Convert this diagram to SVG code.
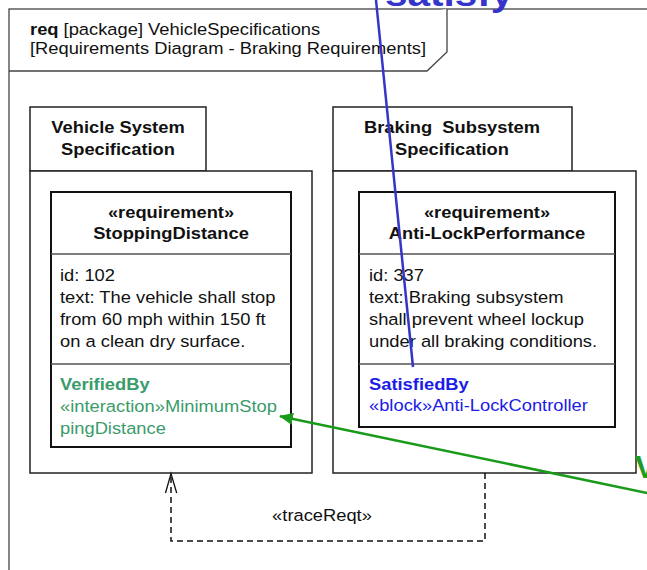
<svg xmlns="http://www.w3.org/2000/svg" width="647" height="570" viewBox="0 0 647 570">
  <style>
    .t { font-family: "Liberation Sans", Arial, sans-serif; font-size: 16.3px; fill: #111; }
    .b { font-weight: bold; }
    .c { text-anchor: middle; }
    .pre { white-space: pre; }
    .frame { fill: #fff; stroke: #444; stroke-width: 1.3; }
    .pkg { fill: #fff; stroke: #222; stroke-width: 1.5; }
    .req { fill: #fff; stroke: #111; stroke-width: 2; }
    .sep { stroke: #555; stroke-width: 1.5; }
    .green { fill: #3a9b6b; }
    .blue { fill: #1c1ce6; }
    .dash { fill: none; stroke: #111; stroke-width: 1.5; stroke-dasharray: 6 4; }
  </style>
  <defs>
    <marker id="verifyHead" markerUnits="userSpaceOnUse" markerWidth="16" markerHeight="14" refX="13" refY="6" orient="auto">
      <path d="M0,0 L14,6 L0,12 z" fill="#1a9a1a"/>
    </marker>
  </defs>

  <rect width="647" height="570" fill="#fff"/>

  <!-- diagram frame with its name tab -->
  <g id="frame">
    <rect class="frame" x="9" y="9" width="660" height="580"/>
    <path class="frame" d="M9,71 H427 L447,52 V9"/>
    <text class="t" transform="translate(30 35) scale(1.125 1)"><tspan class="b">req</tspan> [package] VehicleSpecifications</text>
    <text class="t" transform="translate(30 54) scale(1.125 1)">[Requirements Diagram - Braking Requirements]</text>
  </g>

  <!-- package: Vehicle System Specification -->
  <g id="pkg-vehicle">
    <rect class="pkg" x="30" y="107" width="176" height="64"/>
    <rect class="pkg" x="30" y="171" width="282" height="302"/>
    <text class="t b c" transform="translate(118 133) scale(1.125 1)">Vehicle System</text>
    <text class="t b c" transform="translate(118 155) scale(1.125 1)">Specification</text>
  </g>

  <!-- requirement: StoppingDistance -->
  <g id="req-stopping">
    <rect class="req" x="51" y="192" width="240" height="255"/>
    <line class="sep" x1="51" y1="254" x2="291" y2="254"/>
    <line class="sep" x1="51" y1="364" x2="291" y2="364"/>
    <text class="t b c" transform="translate(171 218) scale(1.125 1)">«requirement»</text>
    <text class="t b c" transform="translate(171 239) scale(1.125 1)">StoppingDistance</text>
    <text class="t" transform="translate(60 281) scale(1.125 1)">id: 102</text>
    <text class="t" transform="translate(60 303) scale(1.125 1)">text: The vehicle shall stop</text>
    <text class="t" transform="translate(60 325) scale(1.125 1)">from 60 mph within 150 ft</text>
    <text class="t" transform="translate(60 347) scale(1.125 1)">on a clean dry surface.</text>
    <text class="t b green" transform="translate(60 390) scale(1.125 1)">VerifiedBy</text>
    <text class="t green" transform="translate(60 412) scale(1.125 1)">«interaction»MinimumStop</text>
    <text class="t green" transform="translate(60 434) scale(1.125 1)">pingDistance</text>
  </g>

  <!-- package: Braking Subsystem Specification -->
  <g id="pkg-braking">
    <rect class="pkg" x="333" y="107" width="239" height="64"/>
    <rect class="pkg" x="333" y="171" width="303" height="302"/>
    <text class="t b c pre" transform="translate(452 133) scale(1.125 1)">Braking  Subsystem</text>
    <text class="t b c" transform="translate(452 155) scale(1.125 1)">Specification</text>
  </g>

  <!-- requirement: Anti-LockPerformance -->
  <g id="req-antilock">
    <rect class="req" x="359" y="192" width="256" height="235"/>
    <line class="sep" x1="359" y1="254" x2="615" y2="254"/>
    <line class="sep" x1="359" y1="364" x2="615" y2="364"/>
    <text class="t b c" transform="translate(487 218) scale(1.125 1)">«requirement»</text>
    <text class="t b c" transform="translate(487 239) scale(1.125 1)">Anti-LockPerformance</text>
    <text class="t" transform="translate(369 281) scale(1.125 1)">id: 337</text>
    <text class="t" transform="translate(369 303) scale(1.125 1)">text: Braking subsystem</text>
    <text class="t" transform="translate(369 325) scale(1.125 1)">shall prevent wheel lockup</text>
    <text class="t" transform="translate(369 347) scale(1.125 1)">under all braking conditions.</text>
    <text class="t b blue" transform="translate(369 390) scale(1.125 1)">SatisfiedBy</text>
    <text class="t blue" transform="translate(369 411) scale(1.125 1)">«block»Anti-LockController</text>
  </g>

  <!-- connectors -->
  <g id="connectors">
    <!-- traceReqt dependency -->
    <path class="dash" d="M485,473 V541 H171 V475"/>
    <polyline points="165.5,493 171,473.5 176.7,493" fill="none" stroke="#111" stroke-width="1.3"/>
    <text class="t c" transform="translate(322 521) scale(1.125 1)">«traceReqt»</text>

    <!-- satisfy callout line, its label running off the top edge -->
    <line x1="375.5" y1="-5" x2="413" y2="367" stroke="#3535c8" stroke-width="2.5"/>
    <text transform="translate(385 6) scale(1.125 1)" font-family="Liberation Sans, Arial, sans-serif" font-size="36" font-weight="bold" fill="#3535cc">satisfy</text>

    <!-- verify callout line, its label running off the right edge -->
    <line x1="660" y1="495.7" x2="280" y2="416.2" stroke="#1a9a1a" stroke-width="2.5" marker-end="url(#verifyHead)"/>
    <text x="635" y="478" font-family="Liberation Sans, Arial, sans-serif" font-size="32" font-weight="bold" fill="#1f9c1f">V</text>
  </g>
</svg>
